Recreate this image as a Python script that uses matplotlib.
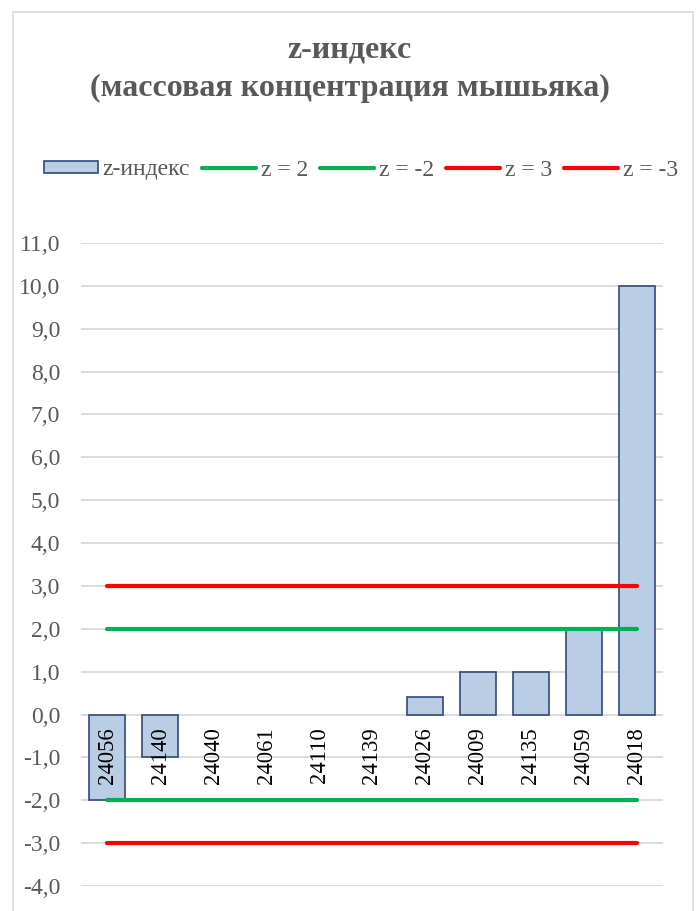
import matplotlib
matplotlib.use("Agg")
import matplotlib.pyplot as plt
from matplotlib.patches import Rectangle
import matplotlib.transforms as mtransforms

categories = ["24056", "24140", "24040", "24061", "24110", "24139",
              "24026", "24009", "24135", "24059", "24018"]
z_values = [-2.0, -1.0, 0.0, 0.0, 0.0, 0.0, 0.4, 1.0, 1.0, 2.0, 10.0]
thresholds = [("z = 2", 2.0, "#00B050"), ("z = -2", -2.0, "#00B050"),
              ("z = 3", 3.0, "#FF0000"), ("z = -3", -3.0, "#FF0000")]
y_ticks = [-4, -3, -2, -1, 0, 1, 2, 3, 4, 5, 6, 7, 8, 9, 10, 11]

serif = ["Liberation Serif", "DejaVu Serif"]
grey = "#595959"

W, H = 700, 911
fig = plt.figure(figsize=(W / 100, H / 100), dpi=100)

# chart border
fig.patches.append(Rectangle((13 / W, -0.05), (693 - 13) / W, (H - 12) / H + 0.05,
                             transform=fig.transFigure, fill=False,
                             edgecolor="#D9D9D9", linewidth=1.2))

ax = fig.add_axes([81 / W, (H - 886) / H, (663 - 81) / W, (886 - 243) / H])
x = list(range(len(categories)))
bars = ax.bar(x, z_values, width=0.68, color="#B9CDE5", edgecolor="#2F4B7C",
              linewidth=1.2, zorder=2, label="z-индекс")
for p, v in zip(bars.patches, z_values):
    if v == 0:
        p.set_linewidth(0)
for name, val, col in thresholds:
    ax.plot(x, [val] * len(x), color=col, linewidth=3.0, solid_capstyle="round",
            zorder=3, label=name)

ax.set_xlim(-0.5, len(categories) - 0.5)
ax.set_ylim(-4, 11)
ax.set_yticks(y_ticks)
ax.set_yticklabels([f"{v:.1f}".replace(".", ",") for v in y_ticks],
                   fontfamily=serif, fontsize=17, color=grey)
ax.tick_params(axis="y", length=0, pad=15)
ax.set_xticks([])
ax.grid(axis="y", color="#D9D9D9", linewidth=1.3, zorder=0)
ax.set_axisbelow(True)
for s in ax.spines.values():
    s.set_visible(False)

off = mtransforms.offset_copy(ax.transData, fig=fig, x=0, y=-13, units="dots")
for i, c in enumerate(categories):
    ax.text(i, 0, c, rotation=90, ha="center", va="top", transform=off,
            fontfamily=serif, fontsize=16.3, color="black", zorder=4)

fig.text(350 / W, 1 - 50 / H, "z-индекс", ha="center", va="center",
         fontfamily=serif, fontsize=23, fontweight="bold", color=grey)
fig.text(350 / W, 1 - 88 / H, "(массовая концентрация мышьяка)", ha="center",
         va="center", fontfamily=serif, fontsize=23, fontweight="bold", color=grey)

handles, labels = ax.get_legend_handles_labels()
order = [labels.index("z-индекс")] + [i for i, l in enumerate(labels) if l != "z-индекс"]
handles = [handles[i] for i in order]
labels = [labels[i] for i in order]
leg = fig.legend(handles, labels, loc="center", bbox_to_anchor=(361 / W, 1 - 170 / H),
                 ncol=5, frameon=False, prop={"family": serif, "size": 17},
                 handlelength=2.3, handleheight=0.45, handletextpad=0.2,
                 columnspacing=0.5, labelcolor=grey)

fig.savefig("out.png", dpi=100)
